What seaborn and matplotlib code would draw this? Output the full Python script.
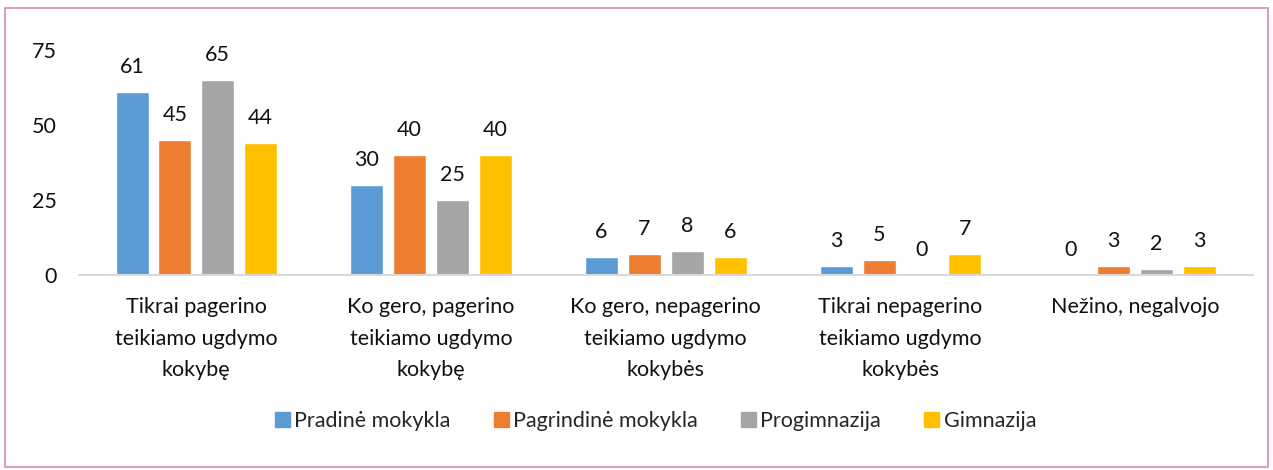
import matplotlib
matplotlib.use("Agg")
import matplotlib.pyplot as plt
import matplotlib.patches as mpatches
import seaborn as sns
import pandas as pd

categories = [
    "Tikrai pagerino\nteikiamo ugdymo\nkokybę",
    "Ko gero, pagerino\nteikiamo ugdymo\nkokybę",
    "Ko gero, nepagerino\nteikiamo ugdymo\nkokybės",
    "Tikrai nepagerino\nteikiamo ugdymo\nkokybės",
    "Nežino, negalvojo",
]
series = ["Pradinė mokykla", "Pagrindinė mokykla", "Progimnazija", "Gimnazija"]
pradine = [61, 30, 6, 3, 0]
pagrindine = [45, 40, 7, 5, 3]
progimnazija = [65, 25, 8, 0, 2]
gimnazija = [44, 40, 6, 7, 3]
y_ticks = [0, 25, 50, 75]

colors = ["#5B9BD5", "#ED7D31", "#A5A5A5", "#FFC000"]

rows = []
for name, vals in zip(series, [pradine, pagrindine, progimnazija, gimnazija]):
    for cat, v in zip(categories, vals):
        rows.append({"cat": cat, "series": name, "value": v})
df = pd.DataFrame(rows)

sns.set_theme(style="white")
plt.rcParams["font.family"] = ["Lato", "DejaVu Sans"]

FS = 15.5
fig = plt.figure(figsize=(12.73, 4.70), dpi=100)
ax = fig.add_axes([0.062, 0.415, 0.922, 0.4787])

sns.barplot(data=df, x="cat", y="value", hue="series", order=categories,
            hue_order=series, palette=colors, width=0.73, gap=0.23,
            saturation=1, ax=ax, legend=False)

for container in ax.containers:
    for bar in container:
        h = bar.get_height()
        ax.annotate(f"{h:g}", (bar.get_x() + bar.get_width() / 2, h),
                    xytext=(0, 11), textcoords="offset points",
                    ha="center", va="bottom", fontsize=FS, color="#111111")

ax.set_ylim(0, 75)
ax.set_xlim(-0.5, len(categories) - 0.5)
ax.set_yticks(y_ticks)
ax.set_yticklabels([str(t) for t in y_ticks], fontsize=FS, color="#111111")
ax.tick_params(axis="y", length=0, pad=16)
ax.tick_params(axis="x", length=0, pad=16)
ax.set_xticklabels(categories, fontsize=FS, color="#111111", linespacing=1.72)
ax.set_xlabel("")
ax.set_ylabel("")
for side in ["top", "right", "left"]:
    ax.spines[side].set_visible(False)
ax.spines["bottom"].set_color("#D9D9D9")
ax.spines["bottom"].set_linewidth(1.5)

handles = [mpatches.Patch(color=c, label=s) for c, s in zip(colors, series)]
fig.legend(handles=handles, loc="center", bbox_to_anchor=(0.515, 0.105),
           ncol=4, frameon=False, fontsize=FS, handlelength=0.7,
           handleheight=0.7, handletextpad=0.2, columnspacing=2.0)

border = mpatches.Rectangle((5 / 1273, 3 / 470), 1263 / 1273, 459 / 470,
                            transform=fig.transFigure, fill=False,
                            edgecolor="#D98CA3", linewidth=1.2)
fig.patches.append(border)

fig.savefig("out.png", dpi=100, facecolor="white")
